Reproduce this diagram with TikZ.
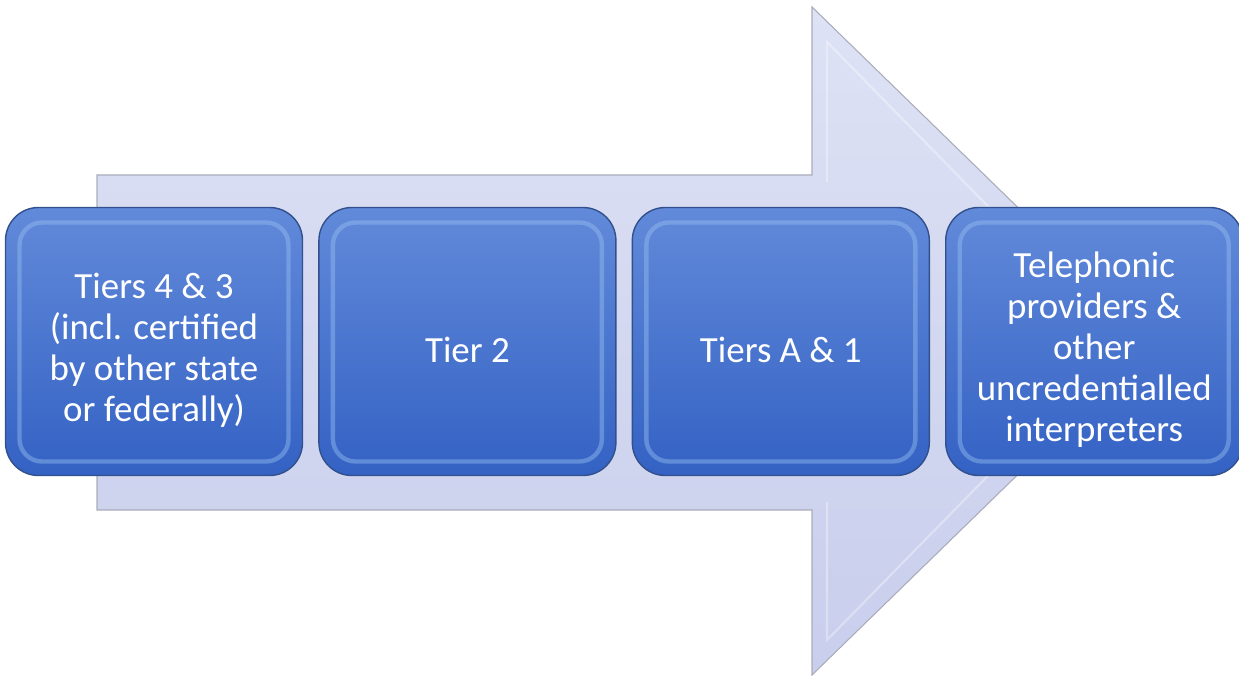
\documentclass[tikz,border=0pt]{standalone}
\usepackage{fontspec}
\setmainfont{Carlito}
\usetikzlibrary{positioning}
\definecolor{arrowtop}{RGB}{222,226,245}
\definecolor{arrowbot}{RGB}{200,206,236}
\definecolor{arrowline}{RGB}{170,172,185}
\definecolor{tiertop}{RGB}{98,138,218}
\definecolor{tierbot}{RGB}{52,98,196}
\definecolor{tierline}{RGB}{50,80,140}
\definecolor{tierbevel}{RGB}{150,190,240}
\newcommand{\tierpad}{\rule{0pt}{0.85cm}}
\tikzset{
  tierbox/.style={draw=tierline, line width=0.8pt, rounded corners=0.66cm,
    top color=tiertop, bottom color=tierbot, text=white,
    minimum width=5.94cm, minimum height=5.36cm, align=center,
    font=\fontsize{21}{23.3}\selectfont,
    path picture={\draw[tierbevel, line width=2.5pt, opacity=0.45, rounded corners=0.45cm]
      ([shift={(0.28,-0.3)}]path picture bounding box.north west) rectangle
      ([shift={(-0.28,0.28)}]path picture bounding box.south east);}},
}
\begin{document}
\begin{tikzpicture}
    \useasboundingbox (0,0) rectangle (24.78,13.54);
    % Freccia
    \draw [arrowline, line width=0.6pt, top color=arrowtop, bottom color=arrowbot]
      (1.94,3.34) -- (1.94,10.04) -- (16.24,10.04) -- (16.24,13.40)
      -- (23.10,6.72) -- (16.24,0.04) -- (16.24,3.34) -- cycle;
    \draw [white, opacity=0.35, line width=1.2pt]
      (16.54,9.90) -- (16.54,12.70) -- (22.40,6.72) -- (16.54,0.74) -- (16.54,3.50);
    % Nodi
    \node [tierbox] (tier43) at (3.08,6.71) {\tierpad Tiers 4 \& 3\\(incl. certified\\by other state\\or federally)};
    \node [tierbox, right=0.3cm of tier43] (tier2) {\tierpad Tier 2};
    \node [tierbox, right=0.3cm of tier2] (tierA1) {\tierpad Tiers A \& 1};
    \node [tierbox, right=0.3cm of tierA1] (phone) {\tierpad Telephonic\\providers \&\\other\\uncredentialled\\interpreters};
\end{tikzpicture}
\end{document}
